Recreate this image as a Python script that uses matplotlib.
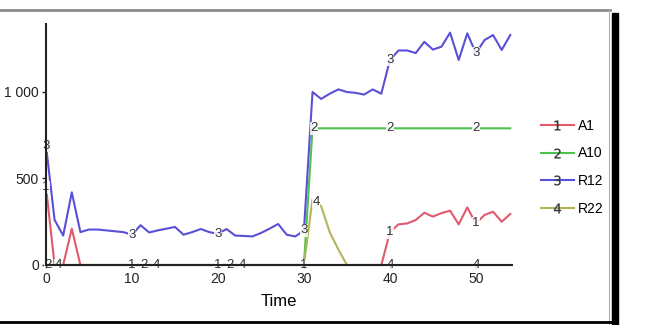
import numpy as np
import matplotlib
matplotlib.use("Agg")
import matplotlib.pyplot as plt
from matplotlib.lines import Line2D
from matplotlib.patches import Rectangle

plt.rcParams['font.family'] = ['Liberation Sans', 'DejaVu Sans']

time = list(range(55))

a1 = [450, 0, 0, 210, 0] + [0] * 35 + [190, 235, 240, 260, 302, 280, 300, 314, 235, 333,
                                          240, 289, 308, 250, 295]
a10 = [0] * 31 + [790] * 24
r12 = [690, 260, 170, 420, 190, 205, 205, 200, 195, 190,
       175, 230, 188, 200, 210, 220, 175, 190, 208, 190,
       180, 208, 170, 168, 165, 185, 210, 237, 175, 165,
       200, 1000, 960, 990, 1015, 1000, 995, 985, 1015, 990,
       1185, 1240, 1240, 1225, 1290, 1245, 1262, 1343, 1185, 1339,
       1224, 1300, 1329, 1243, 1329]
r22 = [0] * 31 + [380, 340, 190, 90] + [0] * 20

names = ["A1", "A10", "R12", "R22"]
series = [a1, a10, r12, r22]
colors = ["#e05a6e", "#4ec24e", "#5a50d8", "#b4b45a"]

# where the series number is written on each line
label_times = [
    [0, 10, 20, 30, 40, 50],
    [0.2, 11.4, 21.4, 31.2, 40, 50],
    [0, 10, 20, 30, 40, 50],
    [1.4, 12.8, 22.8, 31.4, 40, 50],
]

fig = plt.figure(figsize=(6.68, 3.25), dpi=100)
ax = fig.add_axes([46 / 668, 1 - 265 / 325, 466 / 668, 241 / 325])

for i, (vals, c) in enumerate(zip(series, colors)):
    ax.plot(time, vals, color=c, lw=1.5, zorder=2, clip_on=False)
    for t in label_times[i]:
        v = np.interp(t, time, vals)
        ax.text(t, v, str(i + 1), color="#333333", fontsize=9.5, ha="center", va="center",
                zorder=2.3, bbox=dict(fc="white", ec="none", pad=0.3, alpha=0.85))

ax.set_xlim(0, 54.2)
ax.set_ylim(0, 1393)
for s in ["top", "right"]:
    ax.spines[s].set_visible(False)
for s in ["left", "bottom"]:
    ax.spines[s].set_linewidth(1.5)
    ax.spines[s].set_color("#222222")
    ax.spines[s].set_zorder(3)

ax.set_xticks([0, 10, 20, 30, 40, 50])
ax.set_yticks([0, 500, 1000])
ax.set_yticklabels(["0", "500", "1 000"])
ax.tick_params(length=3, width=1, labelsize=10, pad=2, colors="#222222")
ax.set_xlabel("Time", fontsize=12, labelpad=6)

handles = [Line2D([], [], color=c, lw=1.5, marker="$%d$" % (i + 1), markersize=7,
                  mfc="#333333", mec="#333333", mew=0.2) for i, c in enumerate(colors)]
fig.legend(handles, names, loc="upper left", bbox_to_anchor=(528 / 668, 1 - 106 / 325),
           frameon=False, fontsize=10, handlelength=2.4, handletextpad=0.3, labelspacing=1.0)

# outer frame of the original picture
fig.add_artist(Line2D([0, 610 / 668], [1 - 10 / 325] * 2, color="#8a8a8a", lw=2,
                      transform=fig.transFigure))
fig.add_artist(Line2D([609 / 668] * 2, [0, 1 - 10 / 325], color="#b0b0b0", lw=0.8,
                      transform=fig.transFigure))
fig.add_artist(Rectangle((612 / 668, 0), 6 / 668, 1 - 13 / 325, color="black",
                         transform=fig.transFigure))
fig.add_artist(Line2D([0, 612 / 668], [1 - 322 / 325] * 2, color="black", lw=2,
                      transform=fig.transFigure))

fig.savefig("out.png", dpi=100)
